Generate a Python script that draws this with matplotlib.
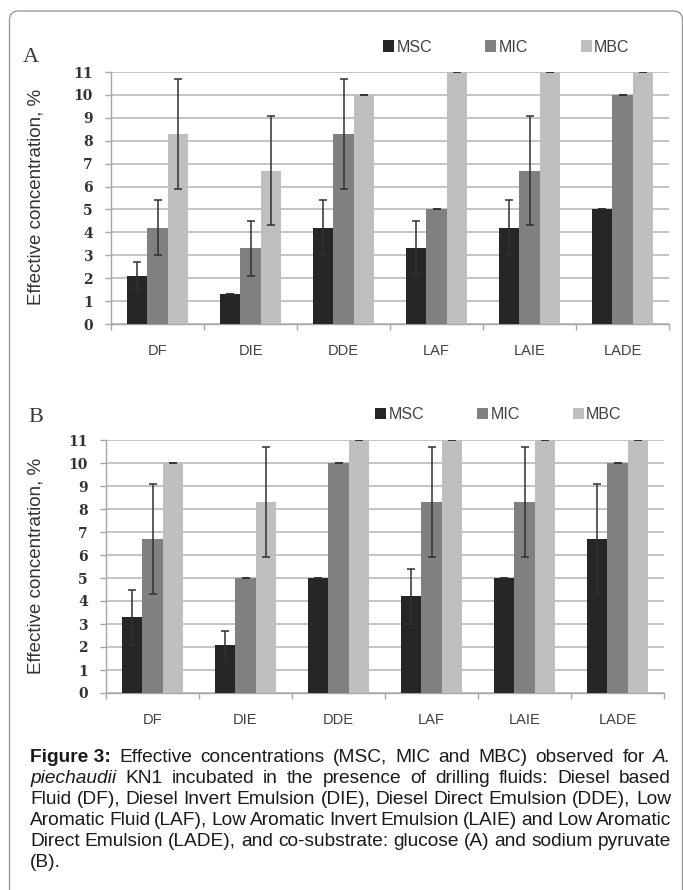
import matplotlib
matplotlib.use("Agg")
import matplotlib.pyplot as plt
from matplotlib.patches import Patch, FancyBboxPatch
from matplotlib.transforms import IdentityTransform
import numpy as np

# ---------------- data ----------------
categories = ["DF", "DIE", "DDE", "LAF", "LAIE", "LADE"]
series = ["MSC", "MIC", "MBC"]
yticks = list(range(0, 12))

# Panel A (glucose)
a_msc = [2.1, 1.3, 4.2, 3.3, 4.2, 5.0]
a_msc_err = [0.6, 0.0, 1.2, 1.2, 1.2, 0.0]
a_mic = [4.2, 3.3, 8.3, 5.0, 6.7, 10.0]
a_mic_err = [1.2, 1.2, 2.4, 0.0, 2.4, 0.0]
a_mbc = [8.3, 6.7, 10.0, 11.0, 11.0, 11.0]
a_mbc_err = [2.4, 2.4, 0.0, 0.0, 0.0, 0.0]

# Panel B (sodium pyruvate)
b_msc = [3.3, 2.1, 5.0, 4.2, 5.0, 6.7]
b_msc_err = [1.2, 0.6, 0.0, 1.2, 0.0, 2.4]
b_mic = [6.7, 5.0, 10.0, 8.3, 8.3, 10.0]
b_mic_err = [2.4, 0.0, 0.0, 2.4, 2.4, 0.0]
b_mbc = [10.0, 8.3, 11.0, 11.0, 11.0, 11.0]
b_mbc_err = [0.0, 2.4, 0.0, 0.0, 0.0, 0.0]

ylabel = "Effective concentration, %"

caption_lines = [
    [("Figure 3:", "bold", "normal"), ("Effective", None, None), ("concentrations", None, None),
     ("(MSC,", None, None), ("MIC", None, None), ("and", None, None), ("MBC)", None, None),
     ("observed", None, None), ("for", None, None), ("A.", "normal", "italic")],
    [("piechaudii", "normal", "italic"), ("KN1", None, None), ("incubated", None, None), ("in", None, None),
     ("the", None, None), ("presence", None, None), ("of", None, None), ("drilling", None, None),
     ("fluids:", None, None), ("Diesel", None, None), ("based", None, None)],
    "Fluid (DF), Diesel Invert Emulsion (DIE), Diesel Direct Emulsion (DDE), Low",
    "Aromatic Fluid (LAF), Low Aromatic Invert Emulsion (LAIE) and Low Aromatic",
    "Direct Emulsion (LADE), and co-substrate: glucose (A) and sodium pyruvate",
    "(B).",
]

# ---------------- style ----------------
W, H = 683, 890
colors = ["#262626", "#808080", "#bfbfbf"]
grid_color = "#c4c4c4"
spine_color = "#a6a6a6"
text_color = "#333333"

fig = plt.figure(figsize=(W / 100, H / 100), dpi=100)
fig.patch.set_facecolor("white")

# outer rounded frame
frame = FancyBboxPatch((9.5, -20), 673, H - 11 + 20, boxstyle="round,pad=0,rounding_size=9",
                       transform=IdentityTransform(), facecolor="none", edgecolor="#9a9a9a",
                       linewidth=1.0, zorder=0)
fig.patches.append(frame)


def px_axes(left, top, right, bottom):
    return fig.add_axes([left / W, 1 - bottom / H, (right - left) / W, (bottom - top) / H])


def draw_panel(ax, vals, errs, letter, letter_xy, legend_xy):
    x = np.arange(len(categories))
    width = 0.218
    offsets = [-width, 0.0, width]
    for i, (v, e) in enumerate(zip(vals, errs)):
        ax.bar(x + offsets[i], v, width=width, color=colors[i], zorder=3, linewidth=0)
        ax.errorbar(x + offsets[i], v, yerr=e, fmt="none", ecolor="#303030", elinewidth=1.1,
                    capsize=3.0, capthick=1.1, zorder=4)
    ax.set_xlim(-0.5, len(categories) - 0.5)
    ax.set_ylim(0, 11)
    ax.set_yticks(yticks)
    ax.set_yticklabels([str(t) for t in yticks], fontfamily="DejaVu Serif", fontweight="bold",
                       fontsize=10, color=text_color)
    ax.yaxis.grid(True, color=grid_color, linewidth=1.4, zorder=0)
    ax.set_axisbelow(True)
    ax.tick_params(axis="y", length=4.5, width=1.0, color=spine_color, pad=8.5)
    ax.set_xticks(x)
    ax.set_xticklabels(categories, fontfamily="Liberation Sans", fontsize=10.5, color="#404040")
    ax.set_xticks(np.arange(-0.5, len(categories)), minor=True)
    ax.tick_params(axis="x", which="major", length=0, pad=14.5)
    ax.tick_params(axis="x", which="minor", length=4.5, width=1.0, color=spine_color)
    for s in ["top", "right"]:
        ax.spines[s].set_visible(False)
    for s in ["left", "bottom"]:
        ax.spines[s].set_color(spine_color)
        ax.spines[s].set_linewidth(1.0)
    fig.text(letter_xy[0] / W, 1 - letter_xy[1] / H, letter, fontfamily="Liberation Serif",
             fontsize=16, color="#3a3a3a", ha="center", va="center")
    handles = [Patch(facecolor=c, edgecolor="none") for c in colors]
    leg = fig.legend(handles, series, loc="center left",
                     bbox_to_anchor=(legend_xy[0] / W, 1 - legend_xy[1] / H),
                     ncol=3, frameon=False, prop={"family": "Liberation Sans", "size": 11.5},
                     handlelength=0.7, handleheight=0.7, handletextpad=0.15,
                     columnspacing=3.3, borderpad=0, borderaxespad=0)
    for t in leg.get_texts():
        t.set_color("#404040")


axA = px_axes(111, 72, 669, 324)
draw_panel(axA, [a_msc, a_mic, a_mbc], [a_msc_err, a_mic_err, a_mbc_err], "A", (31, 58), (383, 47))
fig.text(36 / W, 1 - 197 / H, ylabel, rotation=90, fontfamily="Liberation Sans", fontsize=13.5,
         color=text_color, ha="center", va="center")

axB = px_axes(106, 440, 664, 693)
draw_panel(axB, [b_msc, b_mic, b_mbc], [b_msc_err, b_mic_err, b_mbc_err], "B", (36, 418), (375, 415))
fig.text(36 / W, 1 - 566 / H, ylabel, rotation=90, fontfamily="Liberation Sans", fontsize=13.5,
         color=text_color, ha="center", va="center")

# ---------------- caption (justified) ----------------
cap_size = 13.8
cap_left, cap_right = 30, 671
base0, line_step = 762, 21
renderer = fig.canvas.get_renderer()


def measure(s, **kw):
    t = fig.text(0, 0, s, fontfamily="Liberation Sans", fontsize=cap_size, **kw)
    w = t.get_window_extent(renderer).width
    t.remove()
    return w


space_w = measure("a a") - 2 * measure("a")

for li, line in enumerate(caption_lines):
    if isinstance(line, str):
        words = [(w, None, None) for w in line.split(" ")]
    else:
        words = line
    texts = []
    for w, wt, st in words:
        t = fig.text(0, 1 - (base0 + li * line_step) / H, w, fontfamily="Liberation Sans",
                     fontsize=cap_size, fontweight=wt or "normal", fontstyle=st or "normal",
                     color="#1a1a1a", ha="left", va="baseline")
        texts.append(t)
    widths = [t.get_window_extent(renderer).width for t in texts]
    last = li == len(caption_lines) - 1
    if last or len(texts) == 1:
        gap = space_w
    else:
        gap = (cap_right - cap_left - sum(widths)) / (len(texts) - 1)
    xpos = cap_left
    for t, w in zip(texts, widths):
        t.set_x(xpos / W)
        xpos += w + gap

fig.savefig("out.png", dpi=100)
